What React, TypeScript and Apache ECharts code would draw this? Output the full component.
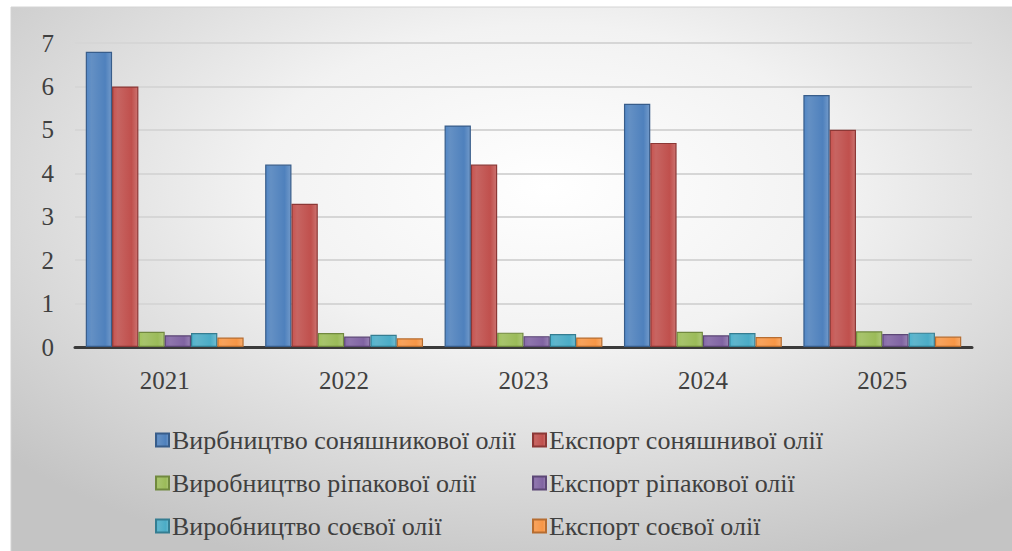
import React, { useEffect, useRef } from "react";
import * as echarts from "echarts";

const categories = ["2021", "2022", "2023", "2024", "2025"];
const seriesNames = [
  "Вирбництво соняшникової олії",
  "Експорт соняшнивої олії",
  "Виробництво ріпакової олії",
  "Експорт ріпакової олії",
  "Виробництво соєвої олії",
  "Експорт соєвої олії",
];
const sunProd = [6.8, 4.2, 5.1, 5.6, 5.8];
const sunExp = [6.0, 3.3, 4.2, 4.7, 5.0];
const rapeProd = [0.35, 0.32, 0.33, 0.35, 0.36];
const rapeExp = [0.27, 0.24, 0.25, 0.27, 0.3];
const soyProd = [0.32, 0.28, 0.3, 0.32, 0.33];
const soyExp = [0.22, 0.2, 0.22, 0.23, 0.24];
const yTicks = [0, 1, 2, 3, 4, 5, 6, 7];

const colors = ["#4F81BD", "#C0504D", "#9BBB59", "#8064A2", "#4BACC6", "#F79646"];
const borders = ["#385D8A", "#8C3836", "#71893F", "#5C4776", "#357D91", "#B66D31"];

export default function App() {
  const ref = useRef<HTMLDivElement>(null);
  useEffect(() => {
    if (!ref.current) return;
    const chart = echarts.init(ref.current, undefined, { renderer: "svg" });
    const allData = [sunProd, sunExp, rapeProd, rapeExp, soyProd, soyExp];
    const font = "Liberation Serif";
    const series = allData.map((d, i) => ({
      type: "bar",
      name: seriesNames[i],
      data: d,
      barGap: "0%",
      barCategoryGap: "12%",
      itemStyle: {
        color: new echarts.graphic.LinearGradient(0, 0, 1, 0, [
          { offset: 0, color: echarts.color.lift(colors[i], -0.05) },
          { offset: 0.2, color: echarts.color.lift(colors[i], 0.12) },
          { offset: 0.75, color: colors[i] },
          { offset: 1, color: echarts.color.lift(colors[i], 0.2) },
        ]),
        borderColor: borders[i],
        borderWidth: 1.2,
      },
    }));
    const legendCommon = {
      orient: "vertical",
      top: 422,
      itemGap: 17,
      itemWidth: 13,
      itemHeight: 13,
      icon: "rect",
      textStyle: { color: "#404040", fontSize: 26, fontFamily: font, padding: [0, 0, 0, -2] },
    };
    chart.setOption({
      animation: false,
      backgroundColor: "#ffffff",
      color: colors,
      textStyle: { fontFamily: font },
      graphic: [
        {
          type: "rect",
          z: -100,
          silent: true,
          shape: { x: 11, y: 7, width: 1012, height: 560 },
          style: {
            fill: new echarts.graphic.RadialGradient(0.53, 0.32, 0.72, [
              { offset: 0, color: "#ffffff" },
              { offset: 0.4, color: "#f2f2f2" },
              { offset: 1, color: "#c4c4c4" },
            ]),
            stroke: "#d4d4d4",
            lineWidth: 1,
          },
        },
      ],
      grid: { left: 75, right: 40, top: 43, bottom: 204 },
      xAxis: {
        type: "category",
        data: categories,
        axisLine: { show: true, lineStyle: { color: "#3a3a3a", width: 3 } },
        axisTick: { show: false },
        axisLabel: { color: "#404040", fontSize: 25, fontFamily: font, margin: 21 },
      },
      yAxis: {
        type: "value",
        min: 0,
        max: 7,
        interval: 1,
        axisLine: { show: false },
        axisTick: { show: false },
        axisLabel: {
          color: "#404040",
          fontSize: 25,
          fontFamily: font,
          margin: 21,
          formatter: (v: number) => (yTicks.includes(v) ? String(v) : ""),
        },
        splitLine: { lineStyle: { color: "#d6d6d6", width: 2 } },
      },
      legend: [
        { ...legendCommon, left: 150, data: [seriesNames[0], seriesNames[2], seriesNames[4]] },
        { ...legendCommon, left: 527, data: [seriesNames[1], seriesNames[3], seriesNames[5]] },
      ],
      series,
    });
    return () => chart.dispose();
  }, []);
  return (
    <div
      ref={ref}
      style={{ position: "fixed", left: 0, top: 0, width: 1012, height: 551 }}
    />
  );
}
